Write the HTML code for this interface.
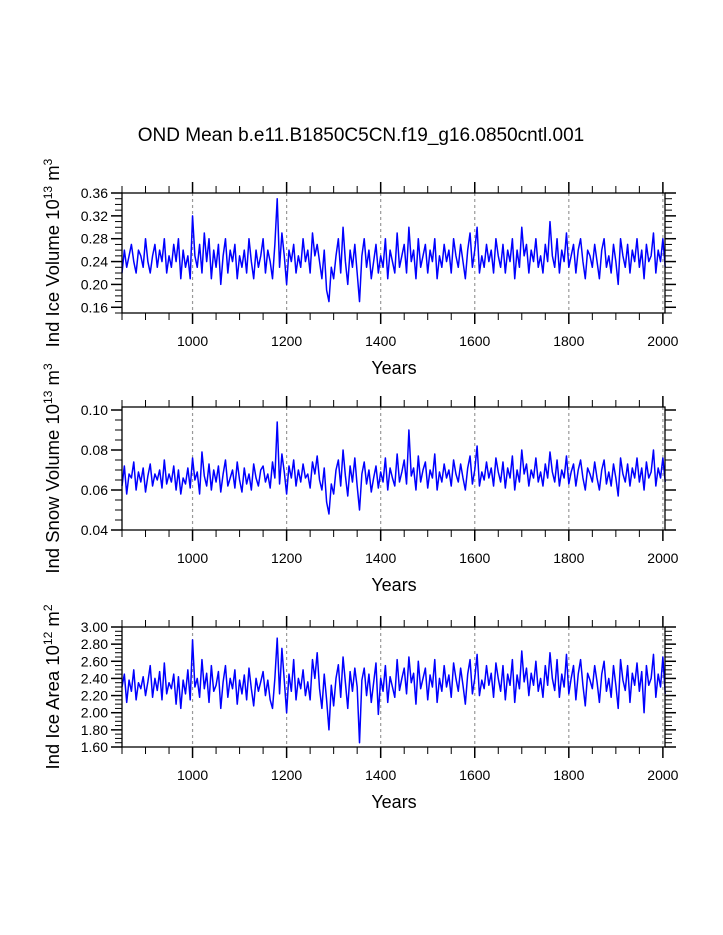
<!DOCTYPE html>
<html><head><meta charset="utf-8"><style>
html,body{margin:0;padding:0;background:#fff;}
svg{display:block;font-family:"Liberation Sans",Arial,sans-serif;}
</style></head><body>
<svg id="chart" width="723" height="935" viewBox="0 0 723 935">
<text x="361" y="141" text-anchor="middle" font-size="19">OND Mean b.e11.B1850C5CN.f19_g16.0850cntl.001</text>
</svg>
<script>
const yearStart = 850;
const yearStep = 5;
const iceVolume = [.22,.26,.23,.25,.27,.24,.22,.26,.25,.23,.28,.24,.22,.25,.27,.23,.26,.24,.28,.22,
.25,.23,.27,.24,.28,.21,.26,.23,.25,.21,.32,.25,.23,.27,.22,.29,.24,.28,.21,.26,
.23,.27,.20,.25,.28,.22,.26,.24,.27,.21,.25,.23,.26,.22,.28,.24,.21,.26,.23,.25,
.28,.22,.26,.24,.21,.27,.35,.23,.29,.25,.20,.26,.24,.27,.22,.25,.23,.28,.24,.26,
.22,.29,.25,.27,.24,.21,.26,.19,.17,.23,.21,.25,.28,.22,.30,.24,.20,.26,.23,.27,
.22,.17,.25,.28,.23,.26,.21,.24,.27,.22,.25,.23,.28,.21,.26,.24,.22,.29,.23,.25,
.27,.22,.30,.24,.26,.21,.28,.23,.25,.27,.22,.26,.24,.28,.21,.25,.23,.27,.24,.26,
.22,.28,.25,.23,.27,.24,.21,.26,.29,.23,.26,.30,.22,.25,.23,.27,.24,.26,.22,.28,
.25,.23,.27,.22,.26,.24,.28,.21,.26,.23,.30,.25,.27,.22,.26,.24,.28,.23,.25,.22,
.27,.24,.31,.25,.23,.28,.22,.26,.24,.29,.23,.25,.27,.22,.26,.28,.24,.21,.26,.25,
.23,.27,.24,.21,.26,.28,.23,.25,.22,.27,.24,.20,.28,.25,.23,.27,.22,.26,.24,.28,
.23,.26,.21,.27,.24,.25,.29,.22,.26,.24,.28,.23];
const snowVolume = [.062,.072,.058,.068,.066,.074,.060,.069,.064,.071,.059,.067,.073,.062,.068,.065,.070,.061,.075,.063,
.068,.064,.072,.060,.070,.058,.066,.063,.071,.061,.076,.065,.069,.058,.079,.067,.062,.073,.060,.070,
.064,.072,.059,.068,.075,.062,.066,.070,.061,.074,.065,.059,.071,.063,.068,.060,.073,.066,.062,.070,
.072,.064,.068,.061,.074,.066,.094,.063,.078,.069,.058,.072,.066,.075,.062,.070,.064,.073,.066,.068,
.061,.074,.068,.077,.065,.060,.071,.054,.048,.063,.058,.070,.075,.062,.080,.067,.057,.072,.064,.076,
.062,.050,.068,.074,.063,.070,.059,.066,.072,.061,.069,.064,.076,.060,.071,.066,.062,.078,.064,.069,
.075,.063,.090,.067,.071,.060,.077,.064,.070,.074,.061,.070,.066,.078,.060,.069,.064,.073,.066,.070,
.062,.075,.068,.064,.073,.066,.060,.071,.077,.063,.070,.082,.062,.069,.065,.074,.066,.071,.062,.076,
.069,.064,.074,.061,.071,.066,.077,.060,.070,.064,.080,.068,.073,.062,.070,.066,.076,.064,.069,.062,
.073,.066,.079,.069,.064,.075,.062,.070,.066,.077,.063,.069,.073,.062,.070,.075,.066,.060,.071,.068,
.064,.074,.066,.060,.070,.075,.063,.069,.062,.073,.066,.057,.076,.068,.064,.073,.062,.071,.066,.076,
.064,.071,.060,.074,.066,.069,.080,.062,.071,.066,.076,.064];
const iceArea = [2.30,2.45,2.12,2.38,2.25,2.50,2.15,2.35,2.28,2.42,2.20,2.36,2.55,2.18,2.40,2.26,2.48,2.15,2.58,2.22,
2.35,2.28,2.45,2.10,2.42,2.05,2.38,2.22,2.50,2.15,2.85,2.30,2.40,2.18,2.62,2.28,2.46,2.12,2.55,2.25,
2.32,2.48,2.05,2.36,2.55,2.18,2.40,2.28,2.50,2.10,2.38,2.22,2.44,2.15,2.52,2.28,2.08,2.40,2.25,2.36,
2.48,2.20,2.38,2.15,2.05,2.40,2.87,2.22,2.75,2.38,2.00,2.45,2.25,2.62,2.15,2.40,2.28,2.50,2.20,2.36,
2.15,2.62,2.40,2.70,2.28,2.05,2.45,2.15,1.80,2.32,2.08,2.40,2.56,2.18,2.65,2.35,2.05,2.48,2.25,2.52,
2.30,1.65,2.38,2.52,2.20,2.45,2.12,2.35,2.58,1.98,2.40,2.25,2.55,2.12,2.42,2.30,2.18,2.62,2.26,2.40,
2.52,2.22,2.65,2.35,2.46,2.10,2.60,2.28,2.40,2.52,2.15,2.44,2.30,2.62,2.12,2.40,2.25,2.55,2.30,2.44,
2.18,2.58,2.40,2.25,2.52,2.32,2.10,2.45,2.62,2.22,2.40,2.68,2.20,2.38,2.28,2.55,2.32,2.46,2.18,2.58,
2.40,2.25,2.55,2.15,2.45,2.32,2.62,2.12,2.44,2.28,2.72,2.36,2.52,2.20,2.46,2.32,2.60,2.25,2.40,2.18,
2.55,2.32,2.70,2.40,2.26,2.62,2.18,2.45,2.30,2.68,2.22,2.40,2.55,2.15,2.45,2.62,2.32,2.08,2.46,2.38,
2.28,2.55,2.36,2.12,2.45,2.60,2.25,2.40,2.18,2.55,2.32,2.05,2.62,2.38,2.26,2.55,2.12,2.46,2.32,2.58,
2.25,2.48,2.00,2.55,2.32,2.40,2.68,2.18,2.45,2.30,2.65,2.22];
const xTicks = [1000,1200,1400,1600,1800,2000];
const ticks1 = ["0.16","0.20","0.24","0.28","0.32","0.36"];
const ticks2 = ["0.04","0.06","0.08","0.10"];
const ticks3 = ["1.60","1.80","2.00","2.20","2.40","2.60","2.80","3.00"];

const NS = "http://www.w3.org/2000/svg";
const svg = document.getElementById('chart');
const X0 = 122, X1 = 665, YR0 = 850, YR1 = 2004.5;
function xs(yr){ return X0 + (yr - YR0) / (YR1 - YR0) * (X1 - X0); }
function mk(tag, attrs, parent){ const e = document.createElementNS(NS, tag); for (const k in attrs) e.setAttribute(k, attrs[k]); (parent||svg).appendChild(e); return e; }

const panels = [
 {name:'ice-volume', data:iceVolume, ticks:ticks1, top:193, bot:313, vmin:0.15, vmax:0.36, major:0.04, minor:0.01, label:'Ind Ice Volume 10', exp:'13', unit:' m', uexp:'3'},
 {name:'snow-volume', data:snowVolume, ticks:ticks2, top:407, bot:530, vmin:0.04, vmax:0.1015, major:0.02, minor:0.005, label:'Ind Snow Volume 10', exp:'13', unit:' m', uexp:'3'},
 {name:'ice-area', data:iceArea, ticks:ticks3, top:627, bot:747, vmin:1.6, vmax:3.0, major:0.2, minor:0.05, label:'Ind Ice Area 10', exp:'12', unit:' m', uexp:'2'}
];

panels.forEach(p => {
  const g = mk('g', {});
  
  
  const ys = v => p.bot - (v - p.vmin) / (p.vmax - p.vmin) * (p.bot - p.top);
  xTicks.forEach(t => {
    const l = mk('line', {x1:xs(t), x2:xs(t), y1:p.top, y2:p.bot, stroke:'#999', 'stroke-width':1.2, 'stroke-dasharray':'3,3'}, g);
    
    
  });
  let d = '';
  p.data.forEach((v, i) => { d += (i ? 'L' : 'M') + xs(yearStart + i * yearStep).toFixed(2) + ',' + ys(v).toFixed(2); });
  const path = mk('path', {d:d, fill:'none', stroke:'#0000ff', 'stroke-width':1.5, 'stroke-linejoin':'round'}, g);
  
  
  const fr = mk('rect', {x:X0, y:p.top, width:X1 - X0, height:p.bot - p.top, fill:'none', stroke:'#000', 'stroke-width':1.3}, g);
  
  
  for (let yr = 850; yr <= 2000; yr += 50) {
    const maj = yr % 200 === 0;
    const len = maj ? 11 : 7;
    mk('line', {x1:xs(yr), x2:xs(yr), y1:p.bot, y2:p.bot + len, stroke:'#000', 'stroke-width':maj?1.5:1}, g);
    mk('line', {x1:xs(yr), x2:xs(yr), y1:p.top, y2:p.top - len, stroke:'#000', 'stroke-width':maj?1.5:1}, g);
  }
  xTicks.forEach(t => {
    const tx = mk('text', {x:xs(t), y:p.bot + 33, 'text-anchor':'middle', 'font-size':14}, g);
    tx.textContent = t;
    
    
  });
  const xt = mk('text', {x:394, y:p.bot + 61, 'text-anchor':'middle', 'font-size':18}, g);
  xt.textContent = 'Years';
  
  
  const start = Math.ceil(p.vmin / p.minor - 1e-6) * p.minor;
  for (let v = start; v <= p.vmax + 1e-9; v += p.minor) {
    const maj = Math.abs(v / p.major - Math.round(v / p.major)) < 1e-6;
    const len = maj ? 11 : 7;
    const y = ys(v);
    mk('line', {x1:X0, x2:X0 - len, y1:y, y2:y, stroke:'#000', 'stroke-width':maj?1.5:1}, g);
    mk('line', {x1:X1, x2:X1 + len, y1:y, y2:y, stroke:'#000', 'stroke-width':maj?1.5:1}, g);
  }
  p.ticks.forEach(t => {
    const tx = mk('text', {x:X0 - 14, y:ys(parseFloat(t)) + 5, 'text-anchor':'end', 'font-size':14}, g);
    tx.textContent = t;
    
    
  });
  const cy = (p.top + p.bot) / 2;
  const yt = mk('text', {x:0, y:0, 'text-anchor':'middle', 'font-size':18.5, transform:'translate(59,' + cy + ') rotate(-90)'}, g);
  
  
  const s1 = mk('tspan', {}, yt); s1.textContent = p.label;
  const s2 = mk('tspan', {dy:-7, 'font-size':12}, yt); s2.textContent = p.exp;
  const s3 = mk('tspan', {dy:7}, yt); s3.textContent = p.unit;
  const s4 = mk('tspan', {dy:-7, 'font-size':12}, yt); s4.textContent = p.uexp;
});
</script>
</body></html>
